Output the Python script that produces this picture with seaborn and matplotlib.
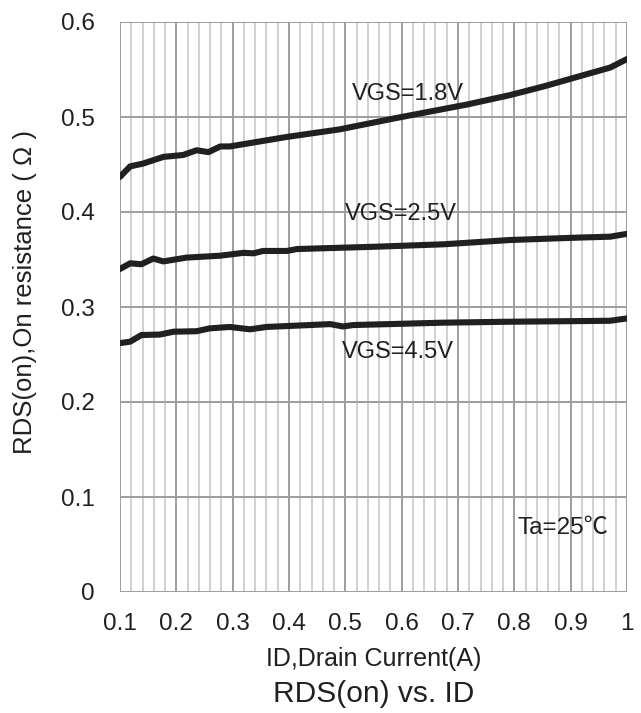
import numpy as np
import pandas as pd
import matplotlib
matplotlib.use("Agg")
import matplotlib.pyplot as plt
from matplotlib.ticker import MultipleLocator
import seaborn as sns

id_18 = [0.10, 0.118, 0.141, 0.177, 0.212, 0.236, 0.257, 0.278, 0.295, 0.396,
         0.49, 0.591, 0.697, 0.715, 0.792, 0.851, 0.946, 0.970, 1.0]
rds_18 = [0.437, 0.448, 0.451, 0.458, 0.460, 0.465, 0.463, 0.469, 0.469, 0.479,
          0.487, 0.499, 0.511, 0.513, 0.523, 0.532, 0.548, 0.552, 0.561]

id_25 = [0.10, 0.118, 0.138, 0.159, 0.177, 0.218, 0.278, 0.319, 0.337, 0.354,
         0.396, 0.414, 0.556, 0.674, 0.792, 0.911, 0.97, 1.0]
rds_25 = [0.340, 0.346, 0.345, 0.351, 0.348, 0.352, 0.354, 0.357, 0.3565, 0.359,
          0.359, 0.361, 0.3635, 0.366, 0.3705, 0.373, 0.374, 0.377]

id_45 = [0.10, 0.118, 0.138, 0.171, 0.195, 0.236, 0.259, 0.295, 0.331, 0.36,
         0.437, 0.473, 0.496, 0.514, 0.674, 0.792, 0.97, 1.0]
rds_45 = [0.262, 0.2635, 0.2705, 0.271, 0.274, 0.2745, 0.2775, 0.279, 0.2765, 0.279,
          0.281, 0.282, 0.2795, 0.281, 0.2835, 0.2845, 0.2855, 0.288]

vgs_labels = ["VGS=1.8V", "VGS=2.5V", "VGS=4.5V"]
x_ticks = [0.1, 0.2, 0.3, 0.4, 0.5, 0.6, 0.7, 0.8, 0.9, 1.0]
x_tick_labels = ["0.1", "0.2", "0.3", "0.4", "0.5", "0.6", "0.7", "0.8", "0.9", "1"]
y_ticks = [0, 0.1, 0.2, 0.3, 0.4, 0.5, 0.6]
y_tick_labels = ["0", "0.1", "0.2", "0.3", "0.4", "0.5", "0.6"]

df = pd.concat([
    pd.DataFrame({"ID": id_18, "RDS": rds_18, "VGS": vgs_labels[0]}),
    pd.DataFrame({"ID": id_25, "RDS": rds_25, "VGS": vgs_labels[1]}),
    pd.DataFrame({"ID": id_45, "RDS": rds_45, "VGS": vgs_labels[2]}),
])

sns.set_style("white")
plt.rcParams['font.family'] = ['Liberation Sans', 'DejaVu Sans']
ink = "#231f20"

fig = plt.figure(figsize=(6.41, 7.13), dpi=100)
ax = fig.add_axes([120 / 641, 1 - 592 / 713, 507 / 641, 570 / 713])

sns.lineplot(data=df, x="ID", y="RDS", hue="VGS", palette=[ink] * 3,
             linewidth=4.4, legend=False, ax=ax, sort=True, estimator=None)

ax.set_xlim(0.1, 1.0)
ax.set_ylim(0, 0.6)
ax.set_xticks(x_ticks)
ax.set_xticklabels(x_tick_labels)
ax.set_yticks(y_ticks)
ax.set_yticklabels(y_tick_labels)
ax.xaxis.set_minor_locator(MultipleLocator(0.02))

ax.grid(which="major", axis="both", color="#9d9d9d", linewidth=1.4)
ax.grid(which="minor", axis="x", color="#c4c4c4", linewidth=1.1)
ax.set_axisbelow(True)
for s in ax.spines.values():
    s.set_visible(False)

ax.tick_params(axis="x", which="major", length=6, width=1.4, color="#9d9d9d",
               labelsize=17.5, labelcolor=ink, pad=9)
ax.tick_params(axis="x", which="minor", length=0)
ax.tick_params(axis="y", which="major", length=8, width=1.4, color="#9d9d9d",
               labelsize=17.5, labelcolor=ink, pad=10)

ax.set_xlabel("ID,Drain Current(A)", fontsize=18, color=ink, labelpad=9)
ax.set_ylabel("RDS(on),On resistance ( Ω )", fontsize=18.5, color=ink)
ax.yaxis.set_label_coords(-0.163, 0.526)

ax.text(0.512, 0.518, vgs_labels[0], fontsize=17, color=ink)
ax.text(0.4995, 0.392, vgs_labels[1], fontsize=17, color=ink)
ax.text(0.4935, 0.246, vgs_labels[2], fontsize=17, color=ink)
ax.text(0.805, 0.061, "Ta=25℃", fontsize=17.5, color=ink,
        family=['Liberation Sans', 'Noto Sans CJK SC'])

fig.text(373.5 / 641, 1 - 694 / 713, "RDS(on) vs. ID", fontsize=21.5, color=ink,
         ha="center", va="center")

fig.savefig("out.png", dpi=100)
